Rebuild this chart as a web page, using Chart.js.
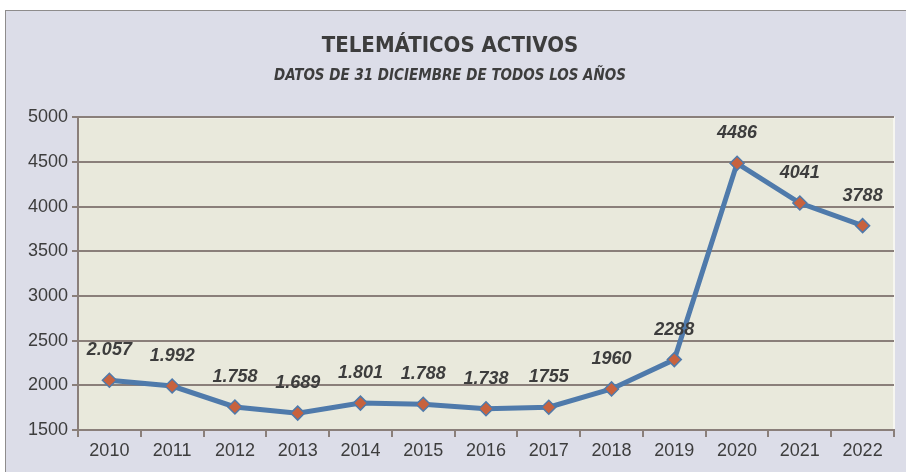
<!DOCTYPE html>
<html>
<head>
<meta charset="utf-8">
<script src="https://cdn.jsdelivr.net/npm/chart.js@4/dist/chart.umd.min.js"></script>
<style>
  html, body { margin: 0; padding: 0; background: #fff; }
  #frame {
    position: absolute; left: 5px; top: 10px; width: 900px; height: 461px;
    background: #dcdde8; border-left: 1px solid #8e8c8c; border-top: 1px solid #8e8c8c;
  }
</style>
</head>
<body>
<div id="frame"><canvas id="chart" width="900" height="461"></canvas></div>
<script>
const years = ["2010", "2011", "2012", "2013", "2014", "2015", "2016", "2017", "2018", "2019", "2020", "2021", "2022"];
const activos = [2057, 1992, 1758, 1689, 1801, 1788, 1738, 1755, 1960, 2288, 4486, 4041, 3788];
// labels as written on the original chart (mixed formats)
const pointLabels = ["2.057", "1.992", "1.758", "1.689", "1.801", "1.788", "1.738", "1755", "1960", "2288", "4486", "4041", "3788"];
const yMin = 1500;
const yMax = 5000;
const yStep = 500;

const axisColor = "#8a7f7a";
const textColor = "#3d3d3d";
const condensed = '"DejaVu Sans Condensed", "Liberation Sans Narrow", Arial, sans-serif';

// beige plot background
const plotBg = {
  id: "plotBg",
  beforeDraw(chart) {
    const { ctx, chartArea: a } = chart;
    ctx.save();
    ctx.fillStyle = "#e9e9dc";
    ctx.fillRect(a.left, a.top, a.right - a.left, a.bottom - a.top);
    ctx.strokeStyle = "#f6f6f0";
    ctx.lineWidth = 2;
    ctx.beginPath();
    ctx.moveTo(a.left, a.top);
    ctx.lineTo(a.right, a.top);
    ctx.lineTo(a.right, a.bottom);
    ctx.stroke();
    ctx.restore();
  }
};

// value labels above each point
const valueLabels = {
  id: "valueLabels",
  afterDatasetsDraw(chart) {
    const { ctx } = chart;
    const meta = chart.getDatasetMeta(0);
    ctx.save();
    ctx.font = 'italic bold 18px "Liberation Sans", Arial, sans-serif';
    ctx.fillStyle = textColor;
    ctx.textAlign = "center";
    ctx.textBaseline = "middle";
    meta.data.forEach((pt, i) => {
      ctx.fillText(pointLabels[i], pt.x, pt.y - 30);
    });
    ctx.restore();
  }
};

const ctx = document.getElementById("chart").getContext("2d");

new Chart(ctx, {
  type: "line",
  data: {
    labels: years,
    datasets: [
      {
        data: activos,
        borderColor: "#4f7aab",
        borderWidth: 5,
        tension: 0,
        pointStyle: "rectRot",
        pointRadius: 7,
        pointBackgroundColor: "#c8623e",
        pointBorderColor: "#4f7aab",
        pointBorderWidth: 1.5,
        fill: false,
      },
    ],
  },
  options: {
    responsive: false,
    animation: false,
    layout: { padding: { left: 0, right: 12, bottom: 0 } },
    plugins: {
      legend: { display: false },
      tooltip: { enabled: false },
      title: {
        display: true,
        text: "TELEMÁTICOS ACTIVOS",
        color: textColor,
        font: { family: condensed, size: 22, weight: "bold" },
        padding: { top: 22, bottom: 6 },
      },
      subtitle: {
        display: true,
        text: "DATOS DE 31 DICIEMBRE DE TODOS LOS AÑOS",
        color: textColor,
        font: { family: condensed, size: 15, weight: "bold", style: "italic" },
        padding: { top: 2, bottom: 32 },
      },
    },
    scales: {
      x: {
        offset: true,
        grid: {
          offset: true,
          drawOnChartArea: false,
          drawTicks: true,
          tickLength: 7,
          color: axisColor,
          lineWidth: 2,
        },
        border: { color: axisColor, width: 2 },
        ticks: {
          color: textColor,
          font: { family: '"Liberation Sans", Arial, sans-serif', size: 18 },
          padding: 3,
          maxRotation: 0,
        },
        afterFit(scale) { scale.height = 42; },
      },
      y: {
        min: yMin,
        max: yMax,
        grid: {
          color: axisColor,
          lineWidth: 2,
          tickLength: 6,
        },
        border: { color: axisColor, width: 2 },
        ticks: {
          stepSize: yStep,
          color: textColor,
          font: { family: '"Liberation Sans", Arial, sans-serif', size: 18 },
          padding: 4,
          callback: (v) => String(v),
        },
        afterFit(scale) { scale.width = 72; },
      },
    },
  },
  plugins: [plotBg, valueLabels],
});
</script>
</body>
</html>
